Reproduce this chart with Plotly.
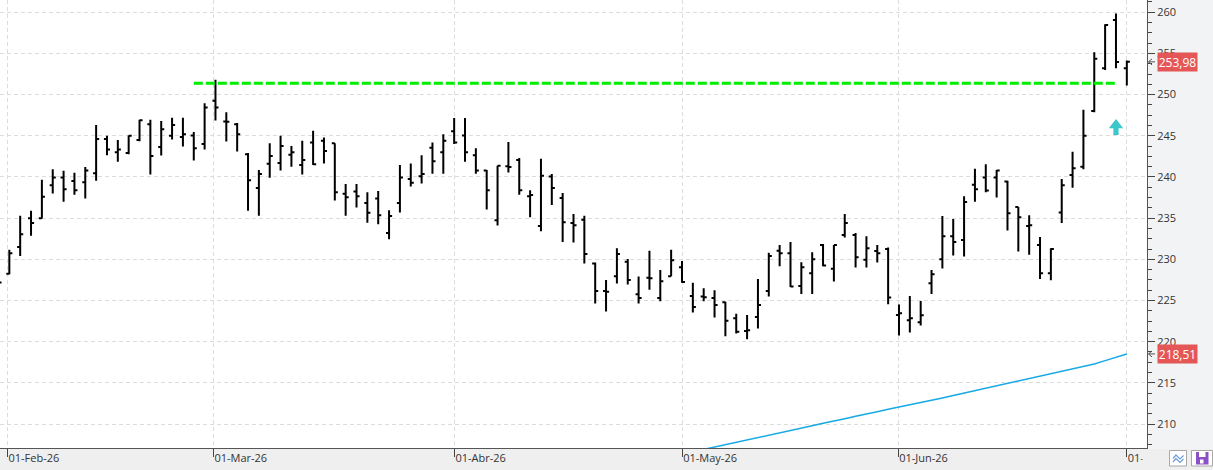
import plotly.graph_objects as go

# ---------------- data ----------------
bar_index = list(range(105))  # trading sessions, 30-Jan-26 .. 01-Jul-26

opens = [226.8, 228.25, 231.5, 235.0, 235.0, 239.0, 239.95, 239.5, 239.35, 240.45,
         244.6, 243.0, 242.9, 244.5, 246.4, 243.65, 245.0, 244.85, 245.05, 244.0,
         249.25, 246.75, 246.4, 242.75, 238.65, 241.6, 241.7, 242.7, 241.45, 244.2,
         244.4, 244.1, 237.95, 238.25, 236.85, 237.4, 233.2, 236.85, 239.75, 240.1,
         243.55, 243.0, 245.55, 245.05, 242.65, 240.8, 234.75, 241.3, 242.05, 237.65,
         234.05, 240.05, 237.45, 234.4, 234.8, 229.5, 226.15, 227.95, 229.7, 225.75,
         227.75, 225.3, 227.95, 229.05, 225.55, 225.5, 225.3, 224.8, 222.85, 221.3,
         223.0, 226.15, 231.05, 230.75, 226.75, 228.3, 231.75, 228.85, 232.95, 232.95,
         229.95, 231.0, 231.25, 223.25, 222.6, 222.35, 227.1, 230.0, 232.8, 232.35,
         239.05, 239.95, 239.95, 239.45, 236.35, 234.05, 231.75, 228.3, 235.7, 240.25,
         241.25, 248.0, 253.2, 259.05, 253.2]
highs = [228.1, 231.15, 235.3, 235.9, 239.65, 240.95, 240.75, 240.5, 241.2, 246.3,
         245.0, 244.5, 245.05, 246.95, 246.95, 246.8, 247.2, 247.2, 245.45, 248.95,
         251.8, 247.85, 246.55, 242.9, 240.85, 244.1, 245.0, 243.75, 244.4, 245.6,
         244.8, 244.1, 239.15, 239.15, 238.15, 238.3, 235.95, 241.45, 241.65, 242.65,
         244.2, 245.2, 247.15, 247.15, 243.5, 240.85, 241.35, 244.25, 242.3, 238.4,
         242.2, 240.35, 238.05, 235.5, 235.3, 229.6, 227.5, 231.35, 230.05, 227.9,
         231.05, 228.7, 231.15, 229.8, 227.15, 226.5, 226.25, 224.85, 223.4, 223.25,
         227.6, 230.8, 231.75, 232.1, 229.65, 230.85, 231.85, 231.75, 235.5, 233.2,
         232.8, 231.75, 231.45, 224.5, 225.55, 224.95, 228.7, 235.25, 234.9, 237.65,
         241.0, 241.55, 240.85, 239.55, 236.35, 235.35, 232.7, 231.35, 239.75, 243.05,
         248.15, 255.15, 258.55, 259.85, 254.15]
lows = [226.0, 228.2, 230.4, 232.85, 234.95, 238.0, 237.0, 237.85, 237.4, 239.55,
        242.65, 241.85, 242.75, 244.35, 240.3, 242.6, 244.55, 243.7, 242.0, 243.35,
        246.85, 244.3, 243.1, 235.9, 235.3, 239.9, 240.8, 241.25, 240.3, 241.45,
        241.65, 237.15, 235.3, 236.3, 234.45, 234.25, 232.45, 235.7, 238.85, 239.2,
        240.4, 240.4, 244.0, 241.85, 240.4, 236.05, 234.1, 240.55, 237.85, 235.1,
        233.4, 236.6, 232.1, 232.05, 229.5, 224.65, 223.65, 227.05, 226.95, 224.65,
        226.3, 224.9, 227.95, 227.15, 223.55, 224.9, 222.95, 220.65, 221.0, 220.3,
        221.6, 225.5, 229.15, 226.65, 225.8, 225.8, 229.15, 227.3, 232.65, 229.0,
        229.0, 229.6, 224.55, 220.75, 221.1, 221.95, 225.8, 228.9, 230.45, 230.35,
        237.0, 238.15, 237.5, 233.5, 230.95, 230.55, 227.6, 227.45, 234.4, 238.7,
        240.95, 247.85, 253.0, 253.2, 251.1]
closes = [227.2, 230.75, 233.05, 234.4, 237.6, 239.95, 238.5, 238.4, 240.8, 244.6,
          243.35, 243.35, 245.0, 246.9, 242.55, 245.8, 246.3, 245.2, 243.5, 248.45,
          248.45, 246.7, 245.2, 239.6, 240.35, 242.55, 243.75, 243.0, 242.05, 241.55,
          243.15, 238.15, 237.55, 237.65, 235.65, 235.35, 235.25, 239.95, 239.3, 240.35,
          241.9, 244.4, 244.2, 243.0, 240.8, 238.4, 241.35, 241.2, 238.4, 237.8,
          240.15, 238.65, 234.5, 234.15, 230.65, 226.15, 226.05, 230.65, 227.5, 225.3,
          227.7, 227.35, 229.9, 227.25, 224.2, 225.4, 224.45, 222.55, 221.2, 221.4,
          224.45, 230.4, 230.75, 226.7, 229.05, 230.0, 229.25, 231.75, 234.4, 230.25,
          231.35, 230.75, 225.35, 223.45, 222.85, 223.2, 228.2, 232.8, 232.1, 236.95,
          238.5, 238.35, 240.8, 235.6, 235.1, 234.15, 228.3, 231.25, 239.0, 241.05,
          245.0, 254.35, 258.45, 253.95, 253.98]

ma_index = list(range(65, 105))
ma_values = [206.92, 207.2, 207.5, 207.8, 208.05, 208.35, 208.6, 208.9, 209.2, 209.5,
             209.8, 210.1, 210.35, 210.65, 210.95, 211.2, 211.5, 211.8, 212.06, 212.3,
             212.58, 212.87, 213.17, 213.46, 213.75, 214.03, 214.32, 214.6, 214.9, 215.18,
             215.47, 215.77, 216.07, 216.37, 216.67, 216.98, 217.3, 217.7, 218.1, 218.51]

month_ticks = [0.83, 19.81, 42.03, 63.02, 82.93, 104.0]
month_labels = ["01-Feb-26", "01-Mar-26", "01-Abr-26", "01-May-26", "01-Jun-26", "01-Jul-26"]

price_ticks = [210, 215, 220, 225, 230, 235, 240, 245, 250, 255, 260]

resistance_level = 251.38
resistance_start = 18
resistance_end = 103

last_close = 253.98
last_close_text = "253,98"
last_ma = 218.51
last_ma_text = "218,51"

signal_index = 103
signal_value = 245.1

x_range = [0.14, 105.86]
y_range = [207.09, 261.49]

# ---------------- figure ----------------
FONT = "Open Sans"
fig = go.Figure()

fig.add_trace(go.Ohlc(
    x=bar_index, open=opens, high=highs, low=lows, close=closes,
    increasing=dict(line=dict(color="#000000", width=2)),
    decreasing=dict(line=dict(color="#000000", width=2)),
    tickwidth=0.28, hoverinfo="skip", showlegend=False,
))

fig.add_trace(go.Scatter(
    x=ma_index, y=ma_values, mode="lines",
    line=dict(color="#16a9e4", width=1.5), hoverinfo="skip", showlegend=False,
))

fig.add_trace(go.Scatter(
    x=[resistance_start, resistance_end], y=[resistance_level, resistance_level],
    mode="lines", line=dict(color="#00ee00", width=3, dash="9px,3px"),
    hoverinfo="skip", showlegend=False,
))

shapes = []
# signal arrow (pixel geometry anchored at the signal point)
shapes.append(dict(
    type="path", xref="x", yref="y", xsizemode="pixel", ysizemode="pixel",
    xanchor=signal_index, yanchor=signal_value,
    path="M -2.6 0 L 2.6 0 L 2.6 6.7 L 7.2 6.7 L 0 16 L -7.2 6.7 L -2.6 6.7 Z",
    fillcolor="#3cc8ca", line=dict(width=0), layer="above",
))
# small pointer marks next to price labels
for val in (last_close, last_ma):
    shapes.append(dict(
        type="path", xref="paper", yref="y", xsizemode="pixel", ysizemode="pixel",
        xanchor=1, yanchor=val,
        path="M 5 3 L 1.5 0 L 5 -3 M 1.5 0 L 8 0",
        line=dict(color="#555555", width=1), layer="above",
    ))
# bottom strip
shapes.append(dict(type="rect", xref="paper", yref="paper", xsizemode="pixel", ysizemode="pixel",
                   xanchor=0, yanchor=0, x0=0, x1=1213, y0=-1, y1=-22,
                   fillcolor="#efefef", line=dict(width=0), layer="below"))
# cover for clipped last date label and icon area
shapes.append(dict(type="rect", xref="paper", yref="paper", xsizemode="pixel", ysizemode="pixel",
                   xanchor=1, yanchor=0, x0=-4.5, x1=66, y0=-1, y1=-22,
                   fillcolor="#efefef", line=dict(width=0), layer="above"))
# icon 1
shapes.append(dict(type="rect", xref="paper", yref="paper", xsizemode="pixel", ysizemode="pixel",
                   xanchor=1, yanchor=0, x0=22.5, x1=39.5, y0=-2.5, y1=-18,
                   fillcolor="#ffffff", line=dict(color="#a8a8a8", width=1), layer="above"))
for dy in (0, -3.5):
    shapes.append(dict(type="path", xref="paper", yref="paper", xsizemode="pixel", ysizemode="pixel",
                       xanchor=1, yanchor=0,
                       path=f"M 26 {-10.5+dy} L 29 {-7+dy} L 33 {-11+dy} L 36.5 {-7.5+dy}",
                       line=dict(color="#6f9fd8", width=1.2), layer="above"))
# icon 2 (save)
shapes.append(dict(type="rect", xref="paper", yref="paper", xsizemode="pixel", ysizemode="pixel",
                   xanchor=1, yanchor=0, x0=44.5, x1=65.5, y0=-2.5, y1=-18,
                   fillcolor="#ffffff", line=dict(color="#a8a8a8", width=1), layer="above"))
shapes.append(dict(type="rect", xref="paper", yref="paper", xsizemode="pixel", ysizemode="pixel",
                   xanchor=1, yanchor=0, x0=49, x1=61.5, y0=-4, y1=-16.5,
                   fillcolor="#8b4fc6", line=dict(width=0), layer="above"))
shapes.append(dict(type="rect", xref="paper", yref="paper", xsizemode="pixel", ysizemode="pixel",
                   xanchor=1, yanchor=0, x0=52, x1=58.5, y0=-4, y1=-9,
                   fillcolor="#ffffff", line=dict(width=0), layer="above"))
shapes.append(dict(type="rect", xref="paper", yref="paper", xsizemode="pixel", ysizemode="pixel",
                   xanchor=1, yanchor=0, x0=53, x1=56.5, y0=-11.5, y1=-15.5,
                   fillcolor="#ffffff", line=dict(width=0), layer="above"))

annotations = []
for val, txt in ((last_close, last_close_text), (last_ma, last_ma_text)):
    annotations.append(dict(
        x=1.0085, xref="paper", y=val, yref="y", text=txt, showarrow=False,
        xanchor="left", yanchor="middle", bgcolor="#e55757",
        font=dict(color="#ffffff", size=12, family=FONT),
        borderpad=1, width=37, height=16,
    ))

fig.update_layout(
    width=1213, height=470, autosize=False,
    margin=dict(l=0, r=66, t=0, b=22, pad=0),
    paper_bgcolor="#f2f3f5", plot_bgcolor="#ffffff",
    font=dict(family=FONT, size=11, color="#333333"),
    showlegend=False,
    shapes=shapes, annotations=annotations,
    xaxis=dict(
        type="linear", range=x_range, rangeslider=dict(visible=False),
        tickmode="array", tickvals=month_ticks, ticktext=month_labels,
        ticks="outside", ticklen=8, tickcolor="#444444", tickwidth=1,
        ticklabelposition="outside right",
        showgrid=True, gridcolor="#dcdcdc", griddash="4px,3px", gridwidth=1,
        showline=True, linecolor="#555555", linewidth=1,
        zeroline=False, automargin=False, fixedrange=True,
        tickfont=dict(family=FONT, size=11, color="#333333"),
    ),
    yaxis=dict(
        side="right", range=y_range,
        tickmode="array", tickvals=price_ticks, ticktext=[str(v) for v in price_ticks],
        ticks="outside", ticklen=7, tickcolor="#444444", tickwidth=1,
        minor=dict(dtick=1.25, tick0=210, ticks="outside", ticklen=4,
                   tickcolor="#444444", showgrid=False),
        showgrid=True, gridcolor="#dcdcdc", griddash="4px,3px", gridwidth=1,
        showline=True, linecolor="#555555", linewidth=1,
        zeroline=False, automargin=False, fixedrange=True,
        tickfont=dict(family=FONT, size=11, color="#333333"),
    ),
)

fig.write_html("out.html")
